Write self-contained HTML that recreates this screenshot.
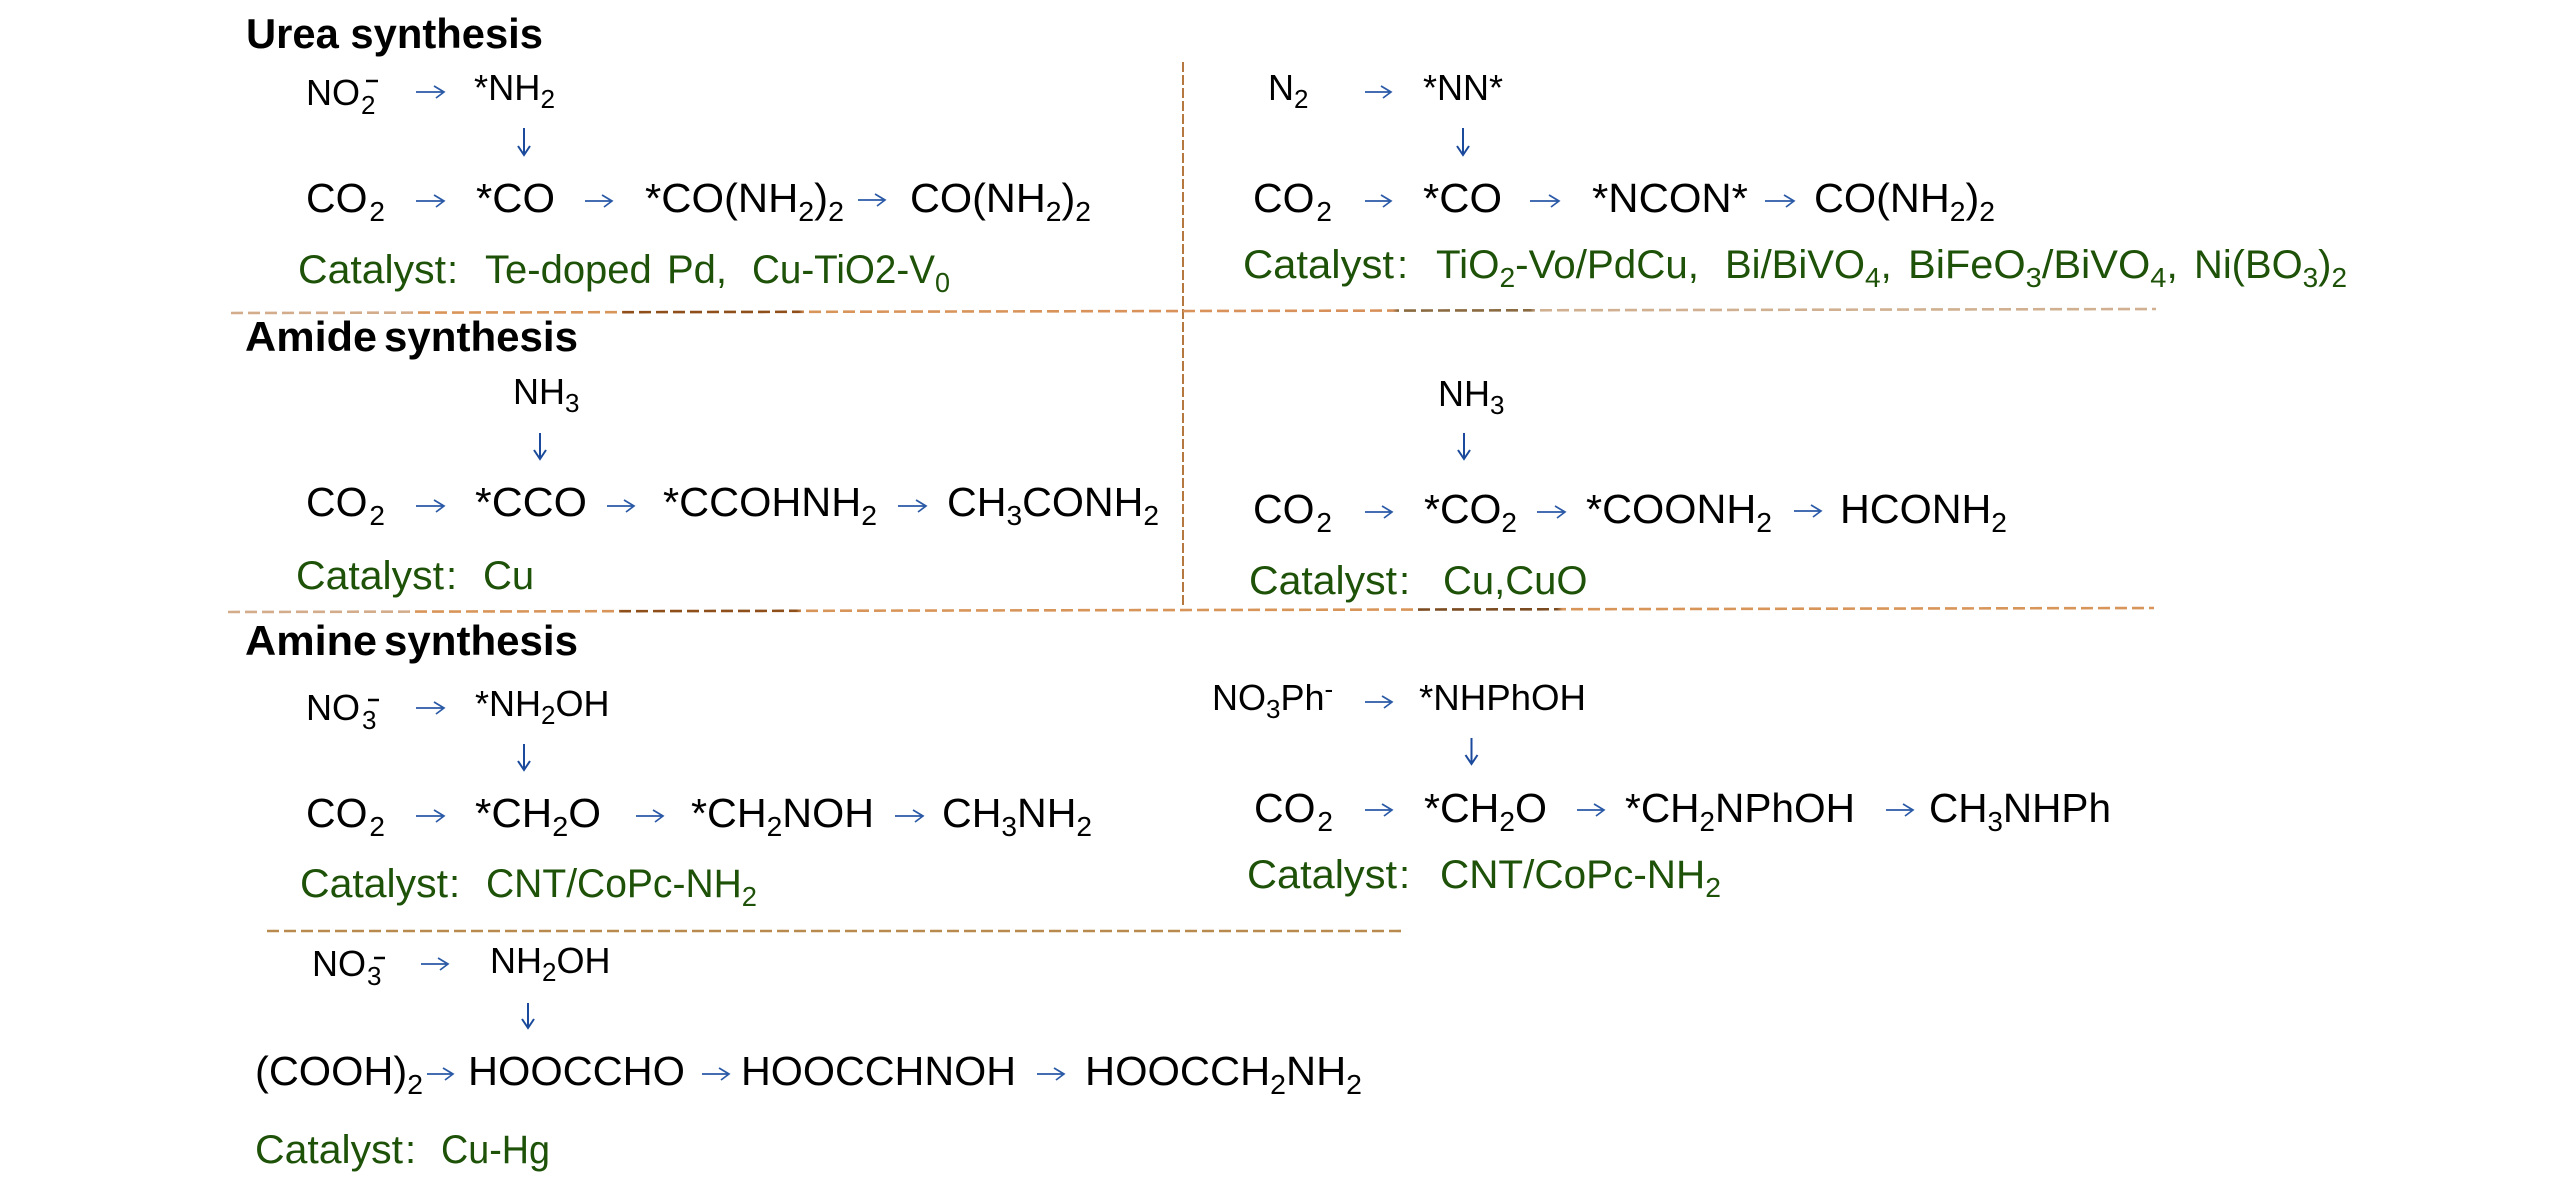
<!DOCTYPE html>
<html><head><meta charset="utf-8"><title>Synthesis pathways</title>
<style>
html,body{margin:0;padding:0;background:#fff}
svg{display:block}
text{font-family:"Liberation Sans",sans-serif;fill:#000;font-size:41px}
.s{font-size:36px}
.b{font-weight:bold;font-size:42px}
.g{fill:#1d5208;font-size:40px}
.u{font-size:28px}
.v{font-size:26px}
</style></head><body>
<svg width="2567" height="1188" viewBox="0 0 2567 1188" xmlns="http://www.w3.org/2000/svg">
<defs>
<linearGradient id="d1" gradientUnits="userSpaceOnUse" x1="231" y1="0" x2="2156" y2="0">
<stop offset="0" stop-color="#d3ac8c"/><stop offset="0.0935" stop-color="#d3ac8c"/><stop offset="0.096" stop-color="#d8955a"/>
<stop offset="0.2015" stop-color="#d8955a"/><stop offset="0.204" stop-color="#8e4f1a"/><stop offset="0.295" stop-color="#8e4f1a"/>
<stop offset="0.298" stop-color="#d8955a"/><stop offset="0.6035" stop-color="#d8905a"/><stop offset="0.606" stop-color="#8a6a40"/>
<stop offset="0.675" stop-color="#8a6a40"/><stop offset="0.678" stop-color="#d0b090"/><stop offset="1" stop-color="#d0b090"/>
</linearGradient>
<linearGradient id="d2" gradientUnits="userSpaceOnUse" x1="228" y1="0" x2="2154" y2="0">
<stop offset="0" stop-color="#d3ac8c"/><stop offset="0.0935" stop-color="#d3ac8c"/><stop offset="0.096" stop-color="#d8955a"/>
<stop offset="0.2015" stop-color="#d8955a"/><stop offset="0.204" stop-color="#8e4f1a"/><stop offset="0.295" stop-color="#8e4f1a"/>
<stop offset="0.298" stop-color="#d8955a"/><stop offset="0.615" stop-color="#d8955a"/><stop offset="0.618" stop-color="#7a4a20"/>
<stop offset="0.69" stop-color="#7a4a20"/><stop offset="0.693" stop-color="#d8955a"/><stop offset="1" stop-color="#d8955a"/>
</linearGradient>
</defs>
<rect width="2567" height="1188" fill="#fff"/>

<!-- dashed lines -->
<g fill="none">
<path d="M1183 62V608" stroke="#ad6a2c" stroke-width="1.8" stroke-dasharray="10 3"/>
<path d="M231 313L2156 309" stroke="url(#d1)" stroke-width="2.6" stroke-dasharray="12 5"/>
<path d="M228 612L2154 608" stroke="url(#d2)" stroke-width="2.6" stroke-dasharray="12 5"/>
<path d="M267 931H1402" stroke="#b98a4e" stroke-width="2.6" stroke-dasharray="12 5"/>
</g>

<!-- horizontal arrows -->
<g fill="none" stroke="#2a59a6" stroke-width="1.7">
<path d="M416 92H444M434 86L444 92L436 98"/>
<path d="M416 201H444M434 195L444 201L436 207"/>
<path d="M585 201H612M602 195L612 201L604 207"/>
<path d="M858 200H885M875 194L885 200L877 206"/>
<path d="M1365 92H1391M1381 86L1391 92L1383 98"/>
<path d="M1365 201H1391M1381 195L1391 201L1383 207"/>
<path d="M1530 201H1559M1549 195L1559 201L1551 207"/>
<path d="M1765 201H1794M1784 195L1794 201L1786 207"/>
<path d="M416 506H444M434 500L444 506L436 512"/>
<path d="M607 506H634M624 500L634 506L626 512"/>
<path d="M898 506H926M916 500L926 506L918 512"/>
<path d="M1365 512H1392M1382 506L1392 512L1384 518"/>
<path d="M1537 512H1565M1555 506L1565 512L1557 518"/>
<path d="M1794 511H1821M1811 505L1821 511L1813 517"/>
<path d="M416 708H444M434 702L444 708L436 714"/>
<path d="M416 816H444M434 810L444 816L436 822"/>
<path d="M636 816H663M653 810L663 816L655 822"/>
<path d="M895 816H923M913 810L923 816L915 822"/>
<path d="M421 964H448M438 958L448 964L440 970"/>
<path d="M427 1074H453M443 1068L453 1074L445 1080"/>
<path d="M702 1074H729M719 1068L729 1074L721 1080"/>
<path d="M1037 1074H1064M1054 1068L1064 1074L1056 1080"/>
<path d="M1365 702H1392M1382 696L1392 702L1384 708"/>
<path d="M1365 810H1392M1382 804L1392 810L1384 816"/>
<path d="M1577 810H1604M1594 804L1604 810L1596 816"/>
<path d="M1886 810H1913M1903 804L1913 810L1905 816"/>
</g>
<!-- vertical arrows -->
<g fill="none" stroke="#1b4a9c" stroke-width="2">
<path d="M524 128V155M518 146L524 155L530 146"/>
<path d="M1463 128V155M1457 146L1463 155L1469 146"/>
<path d="M540 433V459M534 450L540 459L546 450"/>
<path d="M1464 433V459M1458 450L1464 459L1470 450"/>
<path d="M524 744V770M518 761L524 770L530 761"/>
<path d="M528 1003V1028M522 1019L528 1028L534 1019"/>
<path d="M1471.5 738V764M1465.5 755L1471.5 764L1477.5 755"/>
</g>
<!-- superscript minus marks -->
<g stroke="#000" stroke-width="2.4">
<path d="M366 81H378M368 700H379M374 958H385"/>
</g>

<!-- Headers -->
<text class="b" x="246" y="48" textLength="297" lengthAdjust="spacingAndGlyphs">Urea synthesis</text>
<text class="b" x="245" y="351" textLength="132" lengthAdjust="spacingAndGlyphs">Amide</text>
<text class="b" x="384" y="351" textLength="194" lengthAdjust="spacingAndGlyphs">synthesis</text>
<text class="b" x="245" y="655" textLength="132" lengthAdjust="spacingAndGlyphs">Amine</text>
<text class="b" x="384" y="655" textLength="194" lengthAdjust="spacingAndGlyphs">synthesis</text>

<!-- Urea left -->
<text class="s" x="306" y="105">NO</text><text class="v" x="361" y="114">2</text>
<text class="s" x="474" y="100" textLength="81" lengthAdjust="spacingAndGlyphs">*NH<tspan dy="8" class="v">2</tspan></text>
<text x="306" y="212" textLength="79" lengthAdjust="spacingAndGlyphs">CO<tspan dx="2" dy="9" class="u">2</tspan></text>
<text x="476" y="212" textLength="79" lengthAdjust="spacingAndGlyphs">*CO</text>
<text x="645" y="212" textLength="199" lengthAdjust="spacingAndGlyphs">*CO(NH<tspan dy="9" class="u">2</tspan><tspan dy="-9">)</tspan><tspan dy="9" class="u">2</tspan></text>
<text x="910" y="212" textLength="181" lengthAdjust="spacingAndGlyphs">CO(NH<tspan dy="9" class="u">2</tspan><tspan dy="-9">)</tspan><tspan dy="9" class="u">2</tspan></text>
<text class="g" x="298" y="283" textLength="148" lengthAdjust="spacingAndGlyphs">Catalyst</text><text class="g" x="447" y="283">:</text>
<text class="g" x="485" y="283">Te-doped</text><text class="g" x="667" y="283">Pd,</text>
<text class="g" x="752" y="283" textLength="198" lengthAdjust="spacingAndGlyphs">Cu-TiO2-V<tspan dy="9" class="u">0</tspan></text>

<!-- Urea right -->
<text class="s" x="1268" y="100">N<tspan dy="8" class="v">2</tspan></text>
<text class="s" x="1423" y="100">*NN*</text>
<text x="1253" y="212" textLength="79" lengthAdjust="spacingAndGlyphs">CO<tspan dx="2" dy="9" class="u">2</tspan></text>
<text x="1423" y="212" textLength="79" lengthAdjust="spacingAndGlyphs">*CO</text>
<text x="1592" y="212" textLength="156" lengthAdjust="spacingAndGlyphs">*NCON*</text>
<text x="1814" y="212" textLength="181" lengthAdjust="spacingAndGlyphs">CO(NH<tspan dy="9" class="u">2</tspan><tspan dy="-9">)</tspan><tspan dy="9" class="u">2</tspan></text>
<text class="g" x="1243" y="278" textLength="151" lengthAdjust="spacingAndGlyphs">Catalyst</text><text class="g" x="1397" y="278">:</text>
<text class="g" x="1436" y="278" textLength="263" lengthAdjust="spacingAndGlyphs">TiO<tspan dy="9" class="u">2</tspan><tspan dy="-9">-Vo/PdCu,</tspan></text>
<text class="g" x="1725" y="278">Bi/BiVO<tspan dy="9" class="u">4</tspan><tspan dy="-9">,</tspan></text>
<text class="g" x="1908" y="278" textLength="270" lengthAdjust="spacingAndGlyphs">BiFeO<tspan dy="9" class="u">3</tspan><tspan dy="-9">/BiVO</tspan><tspan dy="9" class="u">4</tspan><tspan dy="-9">,</tspan></text>
<text class="g" x="2194" y="278" textLength="153" lengthAdjust="spacingAndGlyphs">Ni(BO<tspan dy="9" class="u">3</tspan><tspan dy="-9">)</tspan><tspan dy="9" class="u">2</tspan></text>

<!-- Amide left -->
<text class="s" x="513" y="404">NH<tspan dy="8" class="v">3</tspan></text>
<text x="306" y="516" textLength="79" lengthAdjust="spacingAndGlyphs">CO<tspan dx="2" dy="9" class="u">2</tspan></text>
<text x="475" y="516" textLength="112" lengthAdjust="spacingAndGlyphs">*CCO</text>
<text x="663" y="516" textLength="214" lengthAdjust="spacingAndGlyphs">*CCOHNH<tspan dy="9" class="u">2</tspan></text>
<text x="947" y="516" textLength="212" lengthAdjust="spacingAndGlyphs">CH<tspan dy="9" class="u">3</tspan><tspan dy="-9">CONH</tspan><tspan dy="9" class="u">2</tspan></text>
<text class="g" x="296" y="589" textLength="148" lengthAdjust="spacingAndGlyphs">Catalyst</text><text class="g" x="446" y="589">:</text>
<text class="g" x="483" y="589">Cu</text>

<!-- Amide right -->
<text class="s" x="1438" y="406">NH<tspan dy="8" class="v">3</tspan></text>
<text x="1253" y="523" textLength="79" lengthAdjust="spacingAndGlyphs">CO<tspan dx="2" dy="9" class="u">2</tspan></text>
<text x="1424" y="523" textLength="93" lengthAdjust="spacingAndGlyphs">*CO<tspan dy="9" class="u">2</tspan></text>
<text x="1586" y="523" textLength="186" lengthAdjust="spacingAndGlyphs">*COONH<tspan dy="9" class="u">2</tspan></text>
<text x="1840" y="523" textLength="167" lengthAdjust="spacingAndGlyphs">HCONH<tspan dy="9" class="u">2</tspan></text>
<text class="g" x="1249" y="594" textLength="148" lengthAdjust="spacingAndGlyphs">Catalyst</text><text class="g" x="1399" y="594">:</text>
<text class="g" x="1443" y="594">Cu,CuO</text>

<!-- Amine left -->
<text class="s" x="306" y="720">NO</text><text class="v" x="362" y="729">3</text>
<text class="s" x="475" y="716">*NH<tspan dy="8" class="v">2</tspan><tspan dy="-8">OH</tspan></text>
<text x="306" y="827" textLength="79" lengthAdjust="spacingAndGlyphs">CO<tspan dx="2" dy="9" class="u">2</tspan></text>
<text x="475" y="827" textLength="126" lengthAdjust="spacingAndGlyphs">*CH<tspan dy="9" class="u">2</tspan><tspan dy="-9">O</tspan></text>
<text x="691" y="827" textLength="183" lengthAdjust="spacingAndGlyphs">*CH<tspan dy="9" class="u">2</tspan><tspan dy="-9">NOH</tspan></text>
<text x="942" y="827" textLength="150" lengthAdjust="spacingAndGlyphs">CH<tspan dy="9" class="u">3</tspan><tspan dy="-9">NH</tspan><tspan dy="9" class="u">2</tspan></text>
<text class="g" x="300" y="897" textLength="148" lengthAdjust="spacingAndGlyphs">Catalyst</text><text class="g" x="449" y="897">:</text>
<text class="g" x="486" y="897" textLength="271" lengthAdjust="spacingAndGlyphs">CNT/CoPc-NH<tspan dy="9" class="u">2</tspan></text>

<!-- Amine right -->
<text class="s" x="1212" y="710">NO<tspan dy="8" class="v">3</tspan><tspan dy="-8">Ph</tspan><tspan dy="-12" class="v">-</tspan></text>
<text class="s" x="1419" y="710" textLength="167" lengthAdjust="spacingAndGlyphs">*NHPhOH</text>
<text x="1254" y="822" textLength="79" lengthAdjust="spacingAndGlyphs">CO<tspan dx="2" dy="9" class="u">2</tspan></text>
<text x="1424" y="822" textLength="123" lengthAdjust="spacingAndGlyphs">*CH<tspan dy="9" class="u">2</tspan><tspan dy="-9">O</tspan></text>
<text x="1625" y="822" textLength="230" lengthAdjust="spacingAndGlyphs">*CH<tspan dy="9" class="u">2</tspan><tspan dy="-9">NPhOH</tspan></text>
<text x="1929" y="822" textLength="182" lengthAdjust="spacingAndGlyphs">CH<tspan dy="9" class="u">3</tspan><tspan dy="-9">NHPh</tspan></text>
<text class="g" x="1247" y="888" textLength="150" lengthAdjust="spacingAndGlyphs">Catalyst</text><text class="g" x="1399" y="888">:</text>
<text class="g" x="1440" y="888" textLength="281" lengthAdjust="spacingAndGlyphs">CNT/CoPc-NH<tspan dy="9" class="u">2</tspan></text>

<!-- Glycine -->
<text class="s" x="312" y="976">NO</text><text class="v" x="367" y="985">3</text>
<text class="s" x="490" y="973">NH<tspan dy="8" class="v">2</tspan><tspan dy="-8">OH</tspan></text>
<text x="255" y="1085" textLength="168" lengthAdjust="spacingAndGlyphs">(COOH)<tspan dy="9" class="u">2</tspan></text>
<text x="468" y="1085" textLength="217" lengthAdjust="spacingAndGlyphs">HOOCCHO</text>
<text x="741" y="1085" textLength="275" lengthAdjust="spacingAndGlyphs">HOOCCHNOH</text>
<text x="1085" y="1085" textLength="277" lengthAdjust="spacingAndGlyphs">HOOCCH<tspan dy="9" class="u">2</tspan><tspan dy="-9">NH</tspan><tspan dy="9" class="u">2</tspan></text>
<text class="g" x="255" y="1163" textLength="148" lengthAdjust="spacingAndGlyphs">Catalyst</text><text class="g" x="405" y="1163">:</text>
<text class="g" x="441" y="1163" textLength="109" lengthAdjust="spacingAndGlyphs">Cu-Hg</text>
</svg>
</body></html>
